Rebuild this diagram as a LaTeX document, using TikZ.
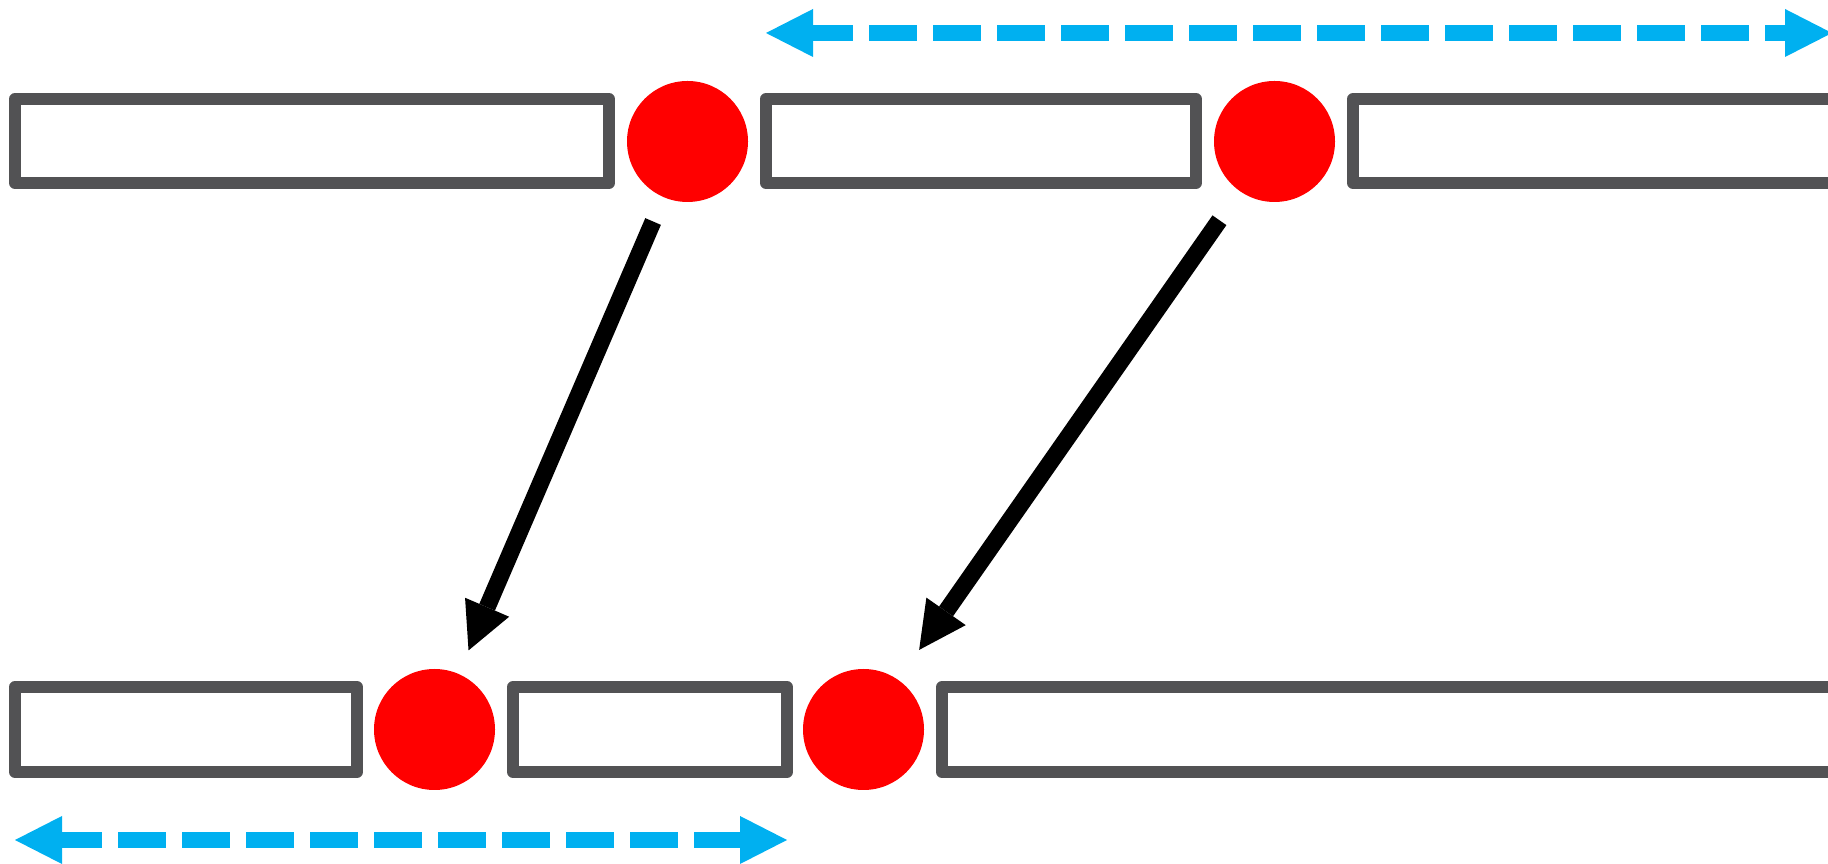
\documentclass[tikz,border=0pt]{standalone}
\usetikzlibrary{arrows.meta}
\definecolor{boxgray}{RGB}{82,82,84}
\definecolor{dotred}{RGB}{255,0,0}
\definecolor{dimblue}{RGB}{0,176,240}
\tikzset{
  segbox/.style={draw=boxgray, line width=12pt, line join=round, fill=white, inner sep=0pt, outer sep=0pt, minimum height=84pt},
  reddot/.style={circle, fill=dotred, inner sep=0pt, outer sep=0pt, minimum size=121pt},
  moveto/.style={draw=black, line width=17pt, -{Triangle[length=47pt,width=48pt,line width=0pt]}},
  dimline/.style={draw=dimblue, line width=16pt, dash pattern=on 48pt off 16pt, dash phase=8pt,
    {Triangle[length=47pt,width=48pt,line width=0pt]}-{Triangle[length=47pt,width=48pt,line width=0pt]}}
}
\begin{document}
\begin{tikzpicture}[x=1pt,y=1pt]
\useasboundingbox (0,0) rectangle (1828,864);
\clip (0,0) rectangle (1828,864);
% top row
\node[segbox, minimum width=594pt] (tb1) at (312,723) {};
\node[segbox, minimum width=430pt] (tb2) at (981,723) {};
\node[segbox, minimum width=547pt] (tb3) at (1626.5,723) {};
\node[reddot] (tc1) at (687.5,722.5) {};
\node[reddot] (tc2) at (1274.5,722.5) {};
% bottom row
\node[segbox, minimum width=342pt, minimum height=85pt] (bb1) at (186,134.5) {};
\node[segbox, minimum width=274pt, minimum height=85pt] (bb2) at (650,134.5) {};
\node[segbox, minimum width=958pt, minimum height=85pt] (bb3) at (1421,134.5) {};
\node[reddot] (bc1) at (434.5,134.5) {};
\node[reddot] (bc2) at (863.5,134.5) {};
% moves
\draw[moveto, shorten <=26.6pt, shorten >=25.6pt] (tc1) -- (bc1);
\draw[moveto, shorten <=35.6pt, shorten >=36.6pt] (tc2) -- (bc2);
% dimension arrows
\coordinate (ta) at (766,831);
\coordinate (tz) at (1832,831);
\coordinate (ba) at (15,24);
\coordinate (bz) at (787,24);
\draw[dimline] (ta) -- (tz);
\draw[dimline] (ba) -- (bz);
\end{tikzpicture}
\end{document}
